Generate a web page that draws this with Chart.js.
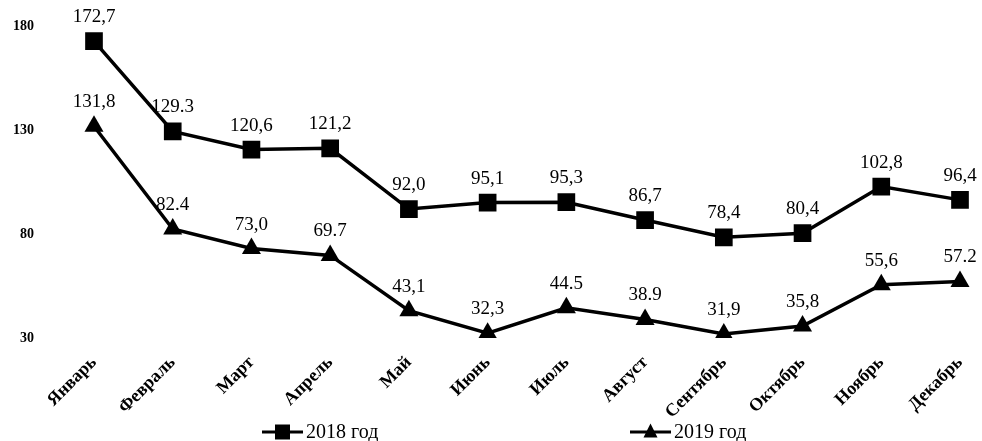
<!DOCTYPE html>
<html lang="ru">
<head>
<meta charset="utf-8">
<title>2018–2019</title>
<script src="https://cdn.jsdelivr.net/npm/chart.js@4.4.0/dist/chart.umd.min.js"></script>
<style>
  html, body { margin: 0; padding: 0; background: #fff; }
  canvas { display: block; }
</style>
</head>
<body>
<canvas id="chart" width="982" height="441"></canvas>
<script>
/* ===== DATA ===== */
const MONTHS = ['Январь', 'Февраль', 'Март', 'Апрель', 'Май', 'Июнь',
                'Июль', 'Август', 'Сентябрь', 'Октябрь', 'Ноябрь', 'Декабрь'];

const VALUES_2018 = [172.7, 129.3, 120.6, 121.2, 92.0, 95.1, 95.3, 86.7, 78.4, 80.4, 102.8, 96.4];
const VALUES_2019 = [131.8, 82.4, 73.0, 69.7, 43.1, 32.3, 44.5, 38.9, 31.9, 35.8, 55.6, 57.2];

// decimal separator used in each printed value label
const SEP_2018 = [',', '.', ',', ',', ',', ',', ',', ',', ',', ',', ',', ','];
const SEP_2019 = [',', '.', ',', '.', ',', ',', '.', '.', ',', ',', ',', '.'];

const Y_TICKS = [30, 80, 130, 180];

const SERIF = '"Liberation Serif", "Times New Roman", serif';

/* ===== PLUGINS ===== */
// value above every marker
const valueLabels = {
  id: 'valueLabels',
  afterDatasetsDraw(chart) {
    const ctx = chart.ctx;
    ctx.save();
    ctx.font = '19px ' + SERIF;
    ctx.fillStyle = '#000';
    ctx.textAlign = 'center';
    ctx.textBaseline = 'middle';
    chart.data.datasets.forEach((ds, i) => {
      chart.getDatasetMeta(i).data.forEach((pt, j) => {
        const txt = ds.data[j].toFixed(1).replace('.', ds.separators[j]);
        ctx.fillText(txt, pt.x, pt.y - 24);
      });
    });
    ctx.restore();
  }
};

// line-with-marker legend entries under the axis labels
const lineLegend = {
  id: 'lineLegend',
  afterDraw(chart, args, opts) {
    const ctx = chart.ctx;
    ctx.save();
    ctx.font = opts.font;
    ctx.textAlign = 'left';
    ctx.textBaseline = 'middle';
    chart.data.datasets.forEach((ds, i) => {
      const x = opts.starts[i];
      const y = opts.y;
      const mid = x + opts.lineLength / 2;
      ctx.strokeStyle = ds.borderColor;
      ctx.lineWidth = 3;
      ctx.beginPath();
      ctx.moveTo(x, y);
      ctx.lineTo(x + opts.lineLength, y);
      ctx.stroke();

      ctx.fillStyle = ds.pointBackgroundColor;
      ctx.beginPath();
      if (ds.pointStyle === 'rect') {
        const s = opts.markerSize;
        ctx.rect(mid - s / 2, y - s / 2, s, s);
      } else {
        const s = opts.markerSize - 1;
        ctx.moveTo(mid, y - s * 0.6);
        ctx.lineTo(mid + s / 2, y + s * 0.4);
        ctx.lineTo(mid - s / 2, y + s * 0.4);
        ctx.closePath();
      }
      ctx.fill();

      ctx.fillStyle = '#000';
      ctx.fillText(ds.label, x + opts.lineLength + 3, y + 1);
    });
    ctx.restore();
  }
};

/* ===== CHART ===== */
new Chart(document.getElementById('chart'), {
  type: 'line',
  data: {
    labels: MONTHS,
    datasets: [
      {
        label: '2018 год',
        data: VALUES_2018,
        separators: SEP_2018,
        borderColor: '#000',
        borderWidth: 3.5,
        pointStyle: 'rect',
        pointRadius: 12.5,
        pointBackgroundColor: '#000',
        pointBorderWidth: 0,
        tension: 0,
      },
      {
        label: '2019 год',
        data: VALUES_2019,
        separators: SEP_2019,
        borderColor: '#000',
        borderWidth: 3.5,
        pointStyle: 'triangle',
        pointRadius: 11,
        pointBackgroundColor: '#000',
        pointBorderWidth: 0,
        tension: 0,
      },
    ],
  },
  options: {
    responsive: false,
    animation: false,
    layout: { padding: { top: 26, right: 22, bottom: 0, left: 0 } },
    scales: {
      x: {
        offset: false,
        grid: { display: false, drawTicks: false },
        border: { display: false },
        ticks: {
          minRotation: 45,
          maxRotation: 45,
          padding: 14,
          color: '#000',
          font: { family: SERIF, size: 18, weight: 'bold' },
        },
        afterFit(scale) {
          scale.height = 103;
          scale.paddingRight = 4;
        },
      },
      y: {
        min: Y_TICKS[0],
        max: Y_TICKS[Y_TICKS.length - 1],
        grid: { display: false, drawTicks: false },
        border: { display: false },
        afterBuildTicks(scale) { scale.ticks = Y_TICKS.map(v => ({ value: v })); },
        ticks: {
          padding: 60,
          color: '#000',
          font: { family: SERIF, size: 14, weight: 'bold' },
        },
        afterFit(scale) {
          // the wide label gap should not push the plot down
          scale.width = 94;
          scale.paddingTop = 8;
          scale.paddingBottom = 8;
        },
      },
    },
    plugins: {
      legend: { display: false },
      tooltip: { enabled: false },
      lineLegend: {
        starts: [262, 630],
        y: 432,
        lineLength: 41,
        markerSize: 15,
        font: '20px ' + SERIF,
      },
    },
  },
  plugins: [valueLabels, lineLegend],
});
</script>
</body>
</html>
